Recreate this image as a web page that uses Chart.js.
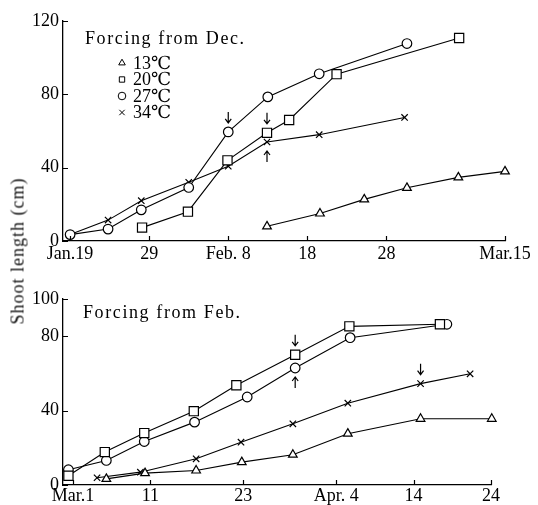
<!DOCTYPE html>
<html>
<head>
<meta charset="utf-8">
<script src="https://cdn.jsdelivr.net/npm/chart.js@4.4.1/dist/chart.umd.min.js"></script>
<style>
  html, body { margin: 0; padding: 0; background: #fff; }
  #wrap { position: relative; width: 538px; height: 505px; background: #fff; overflow: hidden; }
  #wrap canvas { position: absolute; left: 0; }
  #ytitle {
    position: absolute; left: 18px; top: 251px;
    transform: translate(-50%, -50%) rotate(-90deg);
    font-family: 'Liberation Serif', 'DejaVu Serif', serif;
    font-size: 18px; font-weight: 400; letter-spacing: 1px; white-space: nowrap; color: #111;
  }
</style>
</head>
<body>
<div id="wrap">
  <canvas id="chart-dec" width="538" height="270" style="top:0"></canvas>
  <canvas id="chart-feb" width="538" height="235" style="top:270px"></canvas>
  <div id="ytitle">Shoot length (cm)</div>
</div>
<script>
/* Shoot length under forcing at 4 temperatures — two panels */

// x values are days after the first tick date (Jan.19 / Mar.1)
const legendLabels = ['13℃', '20℃', '27℃', '34℃'];

// ── Forcing from Dec. ──
const decTickDays = [0, 10, 20, 30, 40, 55];
const decTickLabels = ['Jan.19', '29', 'Feb. 8', '18', '28', 'Mar.15'];
const decYTicks = [0, 40, 80, 120];

const dec13Days = [24.9, 31.6, 37.2, 42.6, 49.1, 55];
const dec13Vals = [8, 15, 22.7, 29, 34.7, 38];
const dec20Days = [9.1, 14.9, 19.9, 24.9, 27.7, 33.7, 49.2];
const dec20Vals = [7.3, 16, 44, 59, 66, 91, 110.7];
const dec27Days = [0, 4.8, 9, 15, 20, 25, 31.5, 42.6];
const dec27Vals = [3.5, 6.5, 17, 29.2, 59.5, 78.6, 91.2, 107.7];
const dec34Days = [0, 4.8, 9, 15, 20, 24.9, 31.5, 42.3];
const dec34Vals = [3.5, 11.4, 22, 32, 40.8, 54, 58, 67.4];
const decArrows = [
  { x: 20, y: 59.5, dir: 'down' },
  { x: 24.9, y: 59, dir: 'down' },
  { x: 24.9, y: 54, dir: 'up' },
];

// ── Forcing from Feb. ──
const febTickDays = [0, 10, 22, 34, 44, 54];
const febTickLabels = ['Mar.1', '11', '23', 'Apr. 4', '14', '24'];
const febYTicks = [0, 40, 80, 100];

const feb13Days = [4.3, 9.3, 15.9, 21.8, 28.4, 35.5, 44.9, 54.1];
const feb13Vals = [3.3, 6.4, 7.8, 12.3, 16.3, 27.6, 35.6, 35.6];
const feb20Days = [-0.6, 4.1, 9.2, 15.6, 21.1, 28.7, 35.7, 47.4];
const feb20Vals = [5, 17.7, 27.9, 39.7, 53.6, 70, 85.3, 86.4];
const feb27Days = [-0.6, 4.3, 9.2, 15.7, 22.5, 28.7, 35.8, 48.3];
const feb27Vals = [8.2, 13.2, 23.4, 33.8, 47.3, 62.9, 79.2, 86.4];
const feb34Days = [3.1, 8.7, 15.9, 21.7, 28.4, 35.5, 44.9, 51.3];
const feb34Vals = [3.9, 6.9, 14.1, 23, 32.9, 44, 54.5, 59.8];
const febArrows = [
  { x: 28.7, y: 70, dir: 'down' },
  { x: 28.7, y: 62.9, dir: 'up' },
  { x: 44.9, y: 54.5, dir: 'down' },
];

const SERIF = "'Liberation Serif', 'DejaVu Serif', serif";
const STYLES = [
  { pointStyle: 'triangle', radius: 5 },
  { pointStyle: 'rect', radius: 6.5 },
  { pointStyle: 'circle', radius: 4.8 },
  { pointStyle: 'crossRot', radius: 4.5 },
];

const pts = (days, vals) => days.map((d, i) => ({ x: d, y: vals[i] }));

function series(list) {
  return list.map(([days, vals], i) => ({
    label: legendLabels[i],
    data: pts(days, vals),
    borderColor: '#000',
    borderWidth: 1.1,
    pointStyle: STYLES[i].pointStyle,
    pointRadius: STYLES[i].radius,
    pointBorderWidth: 1.2,
    pointBorderColor: '#000',
    pointBackgroundColor: '#fff',
    tension: 0,
    clip: false,
  }));
}

/* inward tick marks on both axes */
const innerTicks = {
  id: 'innerTicks',
  afterDraw(chart) {
    const { ctx, scales: { x, y } } = chart;
    ctx.save();
    ctx.strokeStyle = '#000';
    ctx.lineWidth = 1.2;
    ctx.beginPath();
    x.ticks.forEach(t => {
      const px = Math.round(x.getPixelForValue(t.value)) + 0.5;
      ctx.moveTo(px, x.top); ctx.lineTo(px, x.top - 5);
    });
    y.ticks.forEach(t => {
      const py = Math.round(y.getPixelForValue(t.value)) + 0.5;
      ctx.moveTo(y.right, py); ctx.lineTo(y.right + 5, py);
    });
    ctx.stroke();
    ctx.restore();
  },
};

/* panel title, legend and arrows */
const panelText = {
  id: 'panelText',
  afterDatasetsDraw(chart, args, opts) {
    const { ctx, scales: { x, y } } = chart;
    ctx.save();
    ctx.fillStyle = '#000';
    ctx.textBaseline = 'middle';
    ctx.font = `18px ${SERIF}`;
    ctx.letterSpacing = '1.6px';
    ctx.fillText(opts.title, opts.titleX, opts.titleY);
    ctx.letterSpacing = '0px';

    if (opts.legend) {
      legendLabels.forEach((lab, i) => {
        const ly = opts.legendY + i * 16.5;
        ctx.fillStyle = '#fff';
        ctx.strokeStyle = '#000';
        ctx.lineWidth = 1;
        Chart.helpers.drawPoint(ctx, { pointStyle: STYLES[i].pointStyle, radius: 3.8, rotation: 0, borderWidth: 1 }, opts.legendX, ly);
        ctx.fillStyle = '#000';
        ctx.fillText(lab, opts.legendX + 11, ly + 1);
      });
    }

    ctx.strokeStyle = '#000';
    ctx.lineWidth = 1.2;
    (opts.arrows || []).forEach(a => {
      const px = x.getPixelForValue(a.x);
      const py = y.getPixelForValue(a.y);
      const s = a.dir === 'down' ? -1 : 1;
      const tip = py + s * 9;
      const tail = py + s * 20;
      ctx.beginPath();
      ctx.moveTo(px, tail); ctx.lineTo(px, tip);
      ctx.moveTo(px - 3, tip + s * 4); ctx.lineTo(px, tip); ctx.lineTo(px + 3, tip + s * 4);
      ctx.stroke();
    });
    ctx.restore();
  },
};

function makePanel(id, cfg) {
  return new Chart(document.getElementById(id), {
    type: 'line',
    data: { datasets: cfg.datasets },
    plugins: [innerTicks, panelText],
    options: {
      responsive: false,
      animation: false,
      events: [],
      layout: { padding: cfg.padding },
      plugins: {
        legend: { display: false },
        tooltip: { enabled: false },
        panelText: cfg.text,
      },
      scales: {
        x: {
          type: 'linear',
          min: cfg.xMin,
          max: cfg.xMax,
          grid: { display: false, drawTicks: false },
          border: { display: true, color: '#000', width: 1.3 },
          afterBuildTicks: s => { s.ticks = cfg.xTicks.map(v => ({ value: v })); },
          afterFit: s => { s.height = cfg.xHeight; },
          ticks: {
            color: '#000',
            font: { family: SERIF, size: 18 },
            padding: cfg.xPad,
            maxRotation: 0,
            autoSkip: false,
            callback: (v, i) => cfg.xLabels[i],
          },
        },
        y: {
          min: 0,
          max: cfg.yMax,
          grid: { display: false, drawTicks: false },
          border: { display: true, color: '#000', width: 1.3 },
          afterBuildTicks: s => { s.ticks = cfg.yTicks.map(v => ({ value: v })); },
          afterFit: s => { s.width = 63; },
          ticks: {
            color: '#000',
            font: { family: SERIF, size: 18 },
            padding: 4,
            autoSkip: false,
          },
        },
      },
    },
  });
}

makePanel('chart-dec', {
  datasets: series([[dec13Days, dec13Vals], [dec20Days, dec20Vals], [dec27Days, dec27Vals], [dec34Days, dec34Vals]]),
  padding: { top: 21, right: 33, left: 0, bottom: 0 },
  xMin: -0.9, xMax: 55, xTicks: decTickDays, xLabels: decTickLabels, xHeight: 29, xPad: 2,
  yMax: 120, yTicks: decYTicks,
  text: { title: 'Forcing from Dec.', titleX: 85, titleY: 39, legend: true, legendX: 122, legendY: 63, arrows: decArrows },
});

makePanel('chart-feb', {
  datasets: series([[feb13Days, feb13Vals], [feb20Days, feb20Vals], [feb27Days, feb27Vals], [feb34Days, feb34Vals]]),
  padding: { top: 29, right: 47, left: 0, bottom: 0 },
  xMin: -1.3, xMax: 54, xTicks: febTickDays, xLabels: febTickLabels, xHeight: 20, xPad: 0,
  yMax: 100, yTicks: febYTicks,
  text: { title: 'Forcing from Feb.', titleX: 83, titleY: 43, legend: false, arrows: febArrows },
});
</script>
</body>
</html>
